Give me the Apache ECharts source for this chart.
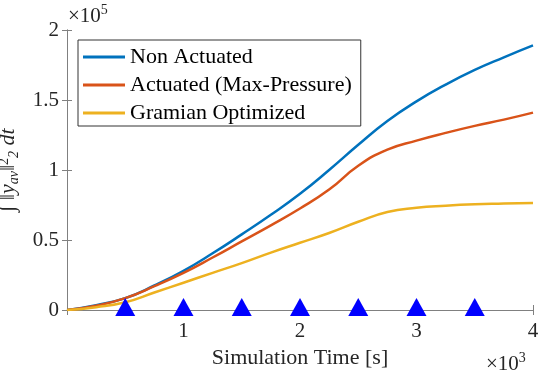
<!DOCTYPE html>
<html>
<head>
<meta charset="utf-8">
<script src="https://cdn.jsdelivr.net/npm/echarts@6/dist/echarts.min.js"></script>
<style>
  html, body { margin: 0; padding: 0; background: #fff; }
  #chart { width: 540px; height: 374px; }
</style>
</head>
<body>
<div id="chart"></div>
<script>
// time in units of 10^3 s, values in units of 10^5
const times = [0, 0.25, 0.5, 0.75, 1, 1.25, 1.5, 1.75, 2, 2.25, 2.5, 2.75, 3, 3.25, 3.5, 3.75, 4];
const nonActuated = [0, 0.035, 0.085, 0.175, 0.28, 0.405, 0.54, 0.68, 0.83, 1.0, 1.18, 1.35, 1.49, 1.61, 1.715, 1.805, 1.89];
const actuatedMaxPressure = [0, 0.03, 0.085, 0.17, 0.265, 0.375, 0.49, 0.605, 0.725, 0.86, 1.03, 1.145, 1.21, 1.265, 1.315, 1.36, 1.41];
const gramianOptimized = [0, 0.02, 0.055, 0.125, 0.195, 0.265, 0.335, 0.41, 0.48, 0.55, 0.63, 0.70, 0.73, 0.745, 0.755, 0.76, 0.765];
const markerTimes = [0.5, 1, 1.5, 2, 2.5, 3, 3.5];
const seriesNames = ["Non Actuated", "Actuated (Max-Pressure)", "Gramian Optimized"];
const xTicks = ["", "1", "2", "3", "4"];
const yTicks = ["0", "0.5", "1", "1.5", "2"];

const font = "Liberation Serif";
const axisGray = "#808080";
const textDark = "#262626";

function pairs(xs, ys) {
  return xs.map((x, i) => [x, ys[i]]);
}

let chart = echarts.init(document.getElementById("chart"));

const lineSeries = (name, data, color) => ({
  name: name,
  type: "line",
  data: pairs(times, data),
  smooth: true,
  showSymbol: false,
  lineStyle: { color: color, width: 2.5 },
  itemStyle: { color: color },
  z: 2
});

const superText = (sup) => ({
  text: "{a|×10}{b|" + sup + "}",
  rich: {
    a: { fontFamily: font, fontSize: 21, fill: textDark, lineHeight: 24, verticalAlign: "bottom" },
    b: { fontFamily: font, fontSize: 14, fill: textDark, lineHeight: 24, verticalAlign: "top" }
  }
});

chart.setOption({
  animation: false,
  textStyle: { fontFamily: font },
  grid: { left: 67, right: 7, top: 30, bottom: 64, outerBoundsMode: "none", containLabel: false },
  legend: {
    orient: "vertical",
    left: 78,
    top: 40,
    data: seriesNames,
    icon: "rect",
    itemWidth: 42,
    itemHeight: 3,
    itemGap: 6,
    padding: [6, 9, 2, 5],
    backgroundColor: "#fff",
    borderColor: "#333",
    borderWidth: 1,
    borderRadius: 0,
    textStyle: { fontFamily: font, fontSize: 22, lineHeight: 22, color: "#000" }
  },
  xAxis: [
    {
      type: "value", min: 0, max: 4, interval: 1,
      name: "Simulation Time [s]", nameLocation: "middle", nameGap: 36,
      nameTextStyle: { fontFamily: font, fontSize: 22, color: textDark },
      axisLine: { lineStyle: { color: axisGray } },
      axisTick: { inside: true, length: 5, lineStyle: { color: axisGray } },
      axisLabel: { fontFamily: font, fontSize: 21, color: textDark, margin: 11, formatter: v => xTicks[Math.round(v)] },
      splitLine: { show: false }
    },
    {
      type: "value", min: 0, max: 4, interval: 1, position: "top",
      axisLine: { lineStyle: { color: axisGray } },
      axisTick: { inside: true, length: 5, lineStyle: { color: axisGray } },
      axisLabel: { show: false },
      splitLine: { show: false }
    }
  ],
  yAxis: [
    {
      type: "value", min: 0, max: 2, interval: 0.5,
      name: "{n|∫ ‖}{v|y}{s|av}{n|‖}{p|2}{s|2}{n| }{v|dt}",
      nameLocation: "middle", nameGap: 41, nameRotate: 90,
      nameTextStyle: {
        rich: {
          n: { fontFamily: font, fontSize: 22, color: textDark, lineHeight: 28 },
          v: { fontFamily: font, fontSize: 22, fontStyle: "italic", color: textDark, lineHeight: 28 },
          s: { fontFamily: font, fontSize: 14, fontStyle: "italic", color: textDark, lineHeight: 28, verticalAlign: "bottom", padding: [0, 0, 1, 0] },
          p: { fontFamily: font, fontSize: 14, color: textDark, lineHeight: 28, verticalAlign: "top", padding: [3, 0, 0, 0] }
        }
      },
      axisLine: { show: true, lineStyle: { color: axisGray } },
      axisTick: { show: true, inside: true, length: 5, lineStyle: { color: axisGray } },
      axisLabel: { fontFamily: font, fontSize: 21, color: textDark, margin: 8, formatter: v => yTicks[Math.round(v * 2)] },
      splitLine: { show: false }
    },
    {
      type: "value", min: 0, max: 2, interval: 0.5, position: "right",
      axisLine: { show: true, lineStyle: { color: axisGray } },
      axisTick: { show: true, inside: true, length: 5, lineStyle: { color: axisGray } },
      axisLabel: { show: false },
      splitLine: { show: false }
    }
  ],
  graphic: [
    { type: "text", left: 68, top: 3, style: superText("5") },
    { type: "text", left: 486, top: 351, style: superText("3") }
  ],
  series: [
    lineSeries(seriesNames[0], nonActuated, "#0072BD"),
    lineSeries(seriesNames[1], actuatedMaxPressure, "#D95319"),
    lineSeries(seriesNames[2], gramianOptimized, "#EDB120"),
    {
      name: "markers",
      type: "scatter",
      data: markerTimes.map(t => [t, 0]),
      symbol: "triangle",
      symbolSize: [20, 18],
      symbolOffset: [0, -3],
      itemStyle: { color: "#0000FF", opacity: 1 },
      z: 5
    }
  ]
});
</script>
</body>
</html>
